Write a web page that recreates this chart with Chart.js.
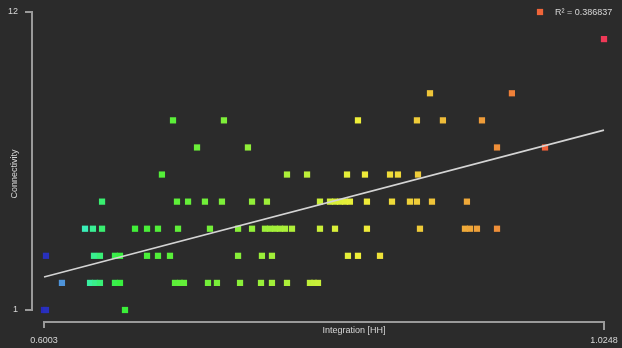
<!DOCTYPE html>
<html>
<head>
<meta charset="utf-8">
<script src="https://cdn.jsdelivr.net/npm/chart.js@4/dist/chart.umd.min.js"></script>
<style>
  html, body { margin: 0; padding: 0; background: #2b2b2b; }
  #wrap { width: 622px; height: 348px; position: relative; }
</style>
</head>
<body>
<div id="wrap"><canvas id="c"></canvas></div>
<script>
// Integration values of the segments, grouped by their connectivity
const integrationAt1  = [0.6003, 0.6018, 0.6617];
const integrationAt2  = [0.6139, 0.6352, 0.6390, 0.6427, 0.6541, 0.6579, 0.6996, 0.7034, 0.7064, 0.7246,
                         0.7314, 0.7489, 0.7648, 0.7731, 0.7845, 0.8019, 0.8050, 0.8080];
const integrationAt3  = [0.6018, 0.6382, 0.6427, 0.6541, 0.6579, 0.6784, 0.6867, 0.6958, 0.7474, 0.7655,
                         0.7731, 0.8307, 0.8383, 0.8550];
const integrationAt4  = [0.6314, 0.6374, 0.6443, 0.6693, 0.6784, 0.6867, 0.7019, 0.7261, 0.7474, 0.7580,
                         0.7678, 0.7716, 0.7754, 0.7792, 0.7830, 0.7883, 0.8095, 0.8209, 0.8451, 0.8853,
                         0.9194, 0.9232, 0.9285, 0.9437];
const integrationAt5  = [0.6443, 0.7011, 0.7095, 0.7223, 0.7352, 0.7580, 0.7693, 0.8095, 0.8171, 0.8209,
                         0.8247, 0.8285, 0.8322, 0.8451, 0.8641, 0.8777, 0.8830, 0.8944, 0.9209];
const integrationAt6  = [0.6897, 0.7845, 0.7997, 0.8300, 0.8436, 0.8626, 0.8686, 0.8838];
const integrationAt7  = [0.7163, 0.7549, 0.9437, 0.9801];
const integrationAt8  = [0.6981, 0.7367, 0.8383, 0.8830, 0.9027, 0.9323];
const integrationAt9  = [0.8929, 0.9550];
const integrationAt11 = [1.0248];
const integrationAt12 = [0.9763];

const connectivityLevels = [1, 2, 3, 4, 5, 6, 7, 8, 9, 11, 12];
const integrationByLevel = [integrationAt1, integrationAt2, integrationAt3, integrationAt4, integrationAt5,
                            integrationAt6, integrationAt7, integrationAt8, integrationAt9,
                            integrationAt11, integrationAt12];

// Axis end ticks
const xTickLabels = ['0.6003', '1.0248'];
const yTickLabels = ['1', '12'];

// Regression line (connectivity at the two ends of the integration range) and its fit
const trendConnectivity = [2.22, 7.64];
const rSquaredText = 'R² = 0.386837';

const xMin = parseFloat(xTickLabels[0]);
const xMax = parseFloat(xTickLabels[1]);
const yMin = parseFloat(yTickLabels[0]);
const yMax = parseFloat(yTickLabels[1]);

const points = [];
connectivityLevels.forEach((c, i) => {
  integrationByLevel[i].forEach(v => points.push({ x: v, y: c }));
});

// Colour ramp along integration: blue → teal → green → yellow → orange → red
const hueStops = [[0, 240], [0.032, 210], [0.075, 160], [0.1, 140], [0.14, 120], [0.3, 100],
                  [0.45, 80], [0.56, 60], [0.7, 45], [0.8, 30], [0.9, 12], [1, -10]];
function colorFor(v) {
  const t = Math.max(0, Math.min(1, (v - xMin) / (xMax - xMin)));
  let h = hueStops[hueStops.length - 1][1];
  for (let i = 1; i < hueStops.length; i++) {
    if (t <= hueStops[i][0]) {
      const [t0, h0] = hueStops[i - 1];
      const [t1, h1] = hueStops[i];
      h = h0 + (h1 - h0) * (t - t0) / (t1 - t0);
      break;
    }
  }
  const sat = t < 0.05 ? 65 : 85;
  const light = t < 0.02 ? 45 : 58;
  return `hsl(${(h + 360) % 360}, ${sat}%, ${light}%)`;
}

const FONT = '"Liberation Sans", Arial, sans-serif';
const TEXT = '#d6d6d6';
const AXIS = '#9a9a9a';

// Offset axis lines, axis titles and the fit label
const decorations = {
  id: 'decorations',
  beforeDraw(chart) {
    const { ctx, width, height } = chart;
    ctx.save();
    ctx.fillStyle = '#2b2b2b';
    ctx.fillRect(0, 0, width, height);
    ctx.restore();
  },
  afterDraw(chart) {
    const { ctx } = chart;
    const xs = chart.scales.x, ys = chart.scales.y;
    const x0 = xs.getPixelForValue(xMin), x1 = xs.getPixelForValue(xMax);
    const y0 = ys.getPixelForValue(yMin), y1 = ys.getPixelForValue(yMax);
    const axisX = x0 - 12, axisY = y0 + 12;
    ctx.save();
    ctx.strokeStyle = AXIS;
    ctx.lineWidth = 2;
    ctx.beginPath();
    // y axis with end ticks
    ctx.moveTo(axisX - 7, y1); ctx.lineTo(axisX, y1); ctx.lineTo(axisX, y0); ctx.lineTo(axisX - 7, y0);
    // x axis with end ticks
    ctx.moveTo(x0, axisY + 6); ctx.lineTo(x0, axisY); ctx.lineTo(x1, axisY); ctx.lineTo(x1, axisY + 8);
    ctx.stroke();

    ctx.fillStyle = TEXT;
    ctx.font = '9px ' + FONT;
    ctx.textAlign = 'center';
    ctx.textBaseline = 'middle';
    ctx.fillText('Integration [HH]', 354, axisY + 9);

    ctx.save();
    ctx.translate(15, 174);
    ctx.rotate(-Math.PI / 2);
    ctx.fillText('Connectivity', 0, 0);
    ctx.restore();

    ctx.textAlign = 'left';
    ctx.fillText(rSquaredText, 555, 13);
    ctx.restore();
  }
};

new Chart(document.getElementById('c'), {
  type: 'scatter',
  data: {
    datasets: [
      {
        label: 'Segments',
        data: points,
        order: 1,
        clip: false,
        pointStyle: 'rect',
        pointRadius: 4.4,
        borderWidth: 0,
        backgroundColor: ctx => colorFor(ctx.raw ? ctx.raw.x : xMin)
      },
      {
        type: 'line',
        label: rSquaredText,
        data: [{ x: xMin, y: trendConnectivity[0] }, { x: xMax, y: trendConnectivity[1] }],
        order: 0,
        clip: false,
        borderColor: '#d4d4d4',
        borderWidth: 1.6,
        pointRadius: 0,
        fill: false
      }
    ]
  },
  options: {
    responsive: true,
    maintainAspectRatio: false,
    animation: false,
    layout: { padding: { left: 0, right: 18, top: 12, bottom: 0 } },
    plugins: { legend: { display: false }, tooltip: { enabled: false } },
    scales: {
      x: {
        type: 'linear',
        min: xMin,
        max: xMax,
        grid: { display: false, drawTicks: false },
        border: { display: false },
        afterBuildTicks: s => { s.ticks = [{ value: xMin }, { value: xMax }]; },
        afterFit: s => { s.height = 38; s.paddingLeft = 0; s.paddingRight = 0; },
        ticks: {
          autoSkip: false,
          maxRotation: 0,
          padding: 25,
          color: TEXT,
          font: { family: FONT, size: 9 },
          callback: (v, i) => xTickLabels[i]
        }
      },
      y: {
        type: 'linear',
        min: yMin,
        max: yMax,
        grid: { display: false, drawTicks: false },
        border: { display: false },
        afterBuildTicks: s => { s.ticks = [{ value: yMin }, { value: yMax }]; },
        afterFit: s => { s.width = 44; s.paddingTop = 0; s.paddingBottom = 0; },
        ticks: {
          autoSkip: false,
          padding: 26,
          color: TEXT,
          font: { family: FONT, size: 9 },
          callback: (v, i) => yTickLabels[i]
        }
      }
    }
  },
  plugins: [decorations]
});
</script>
</body>
</html>
